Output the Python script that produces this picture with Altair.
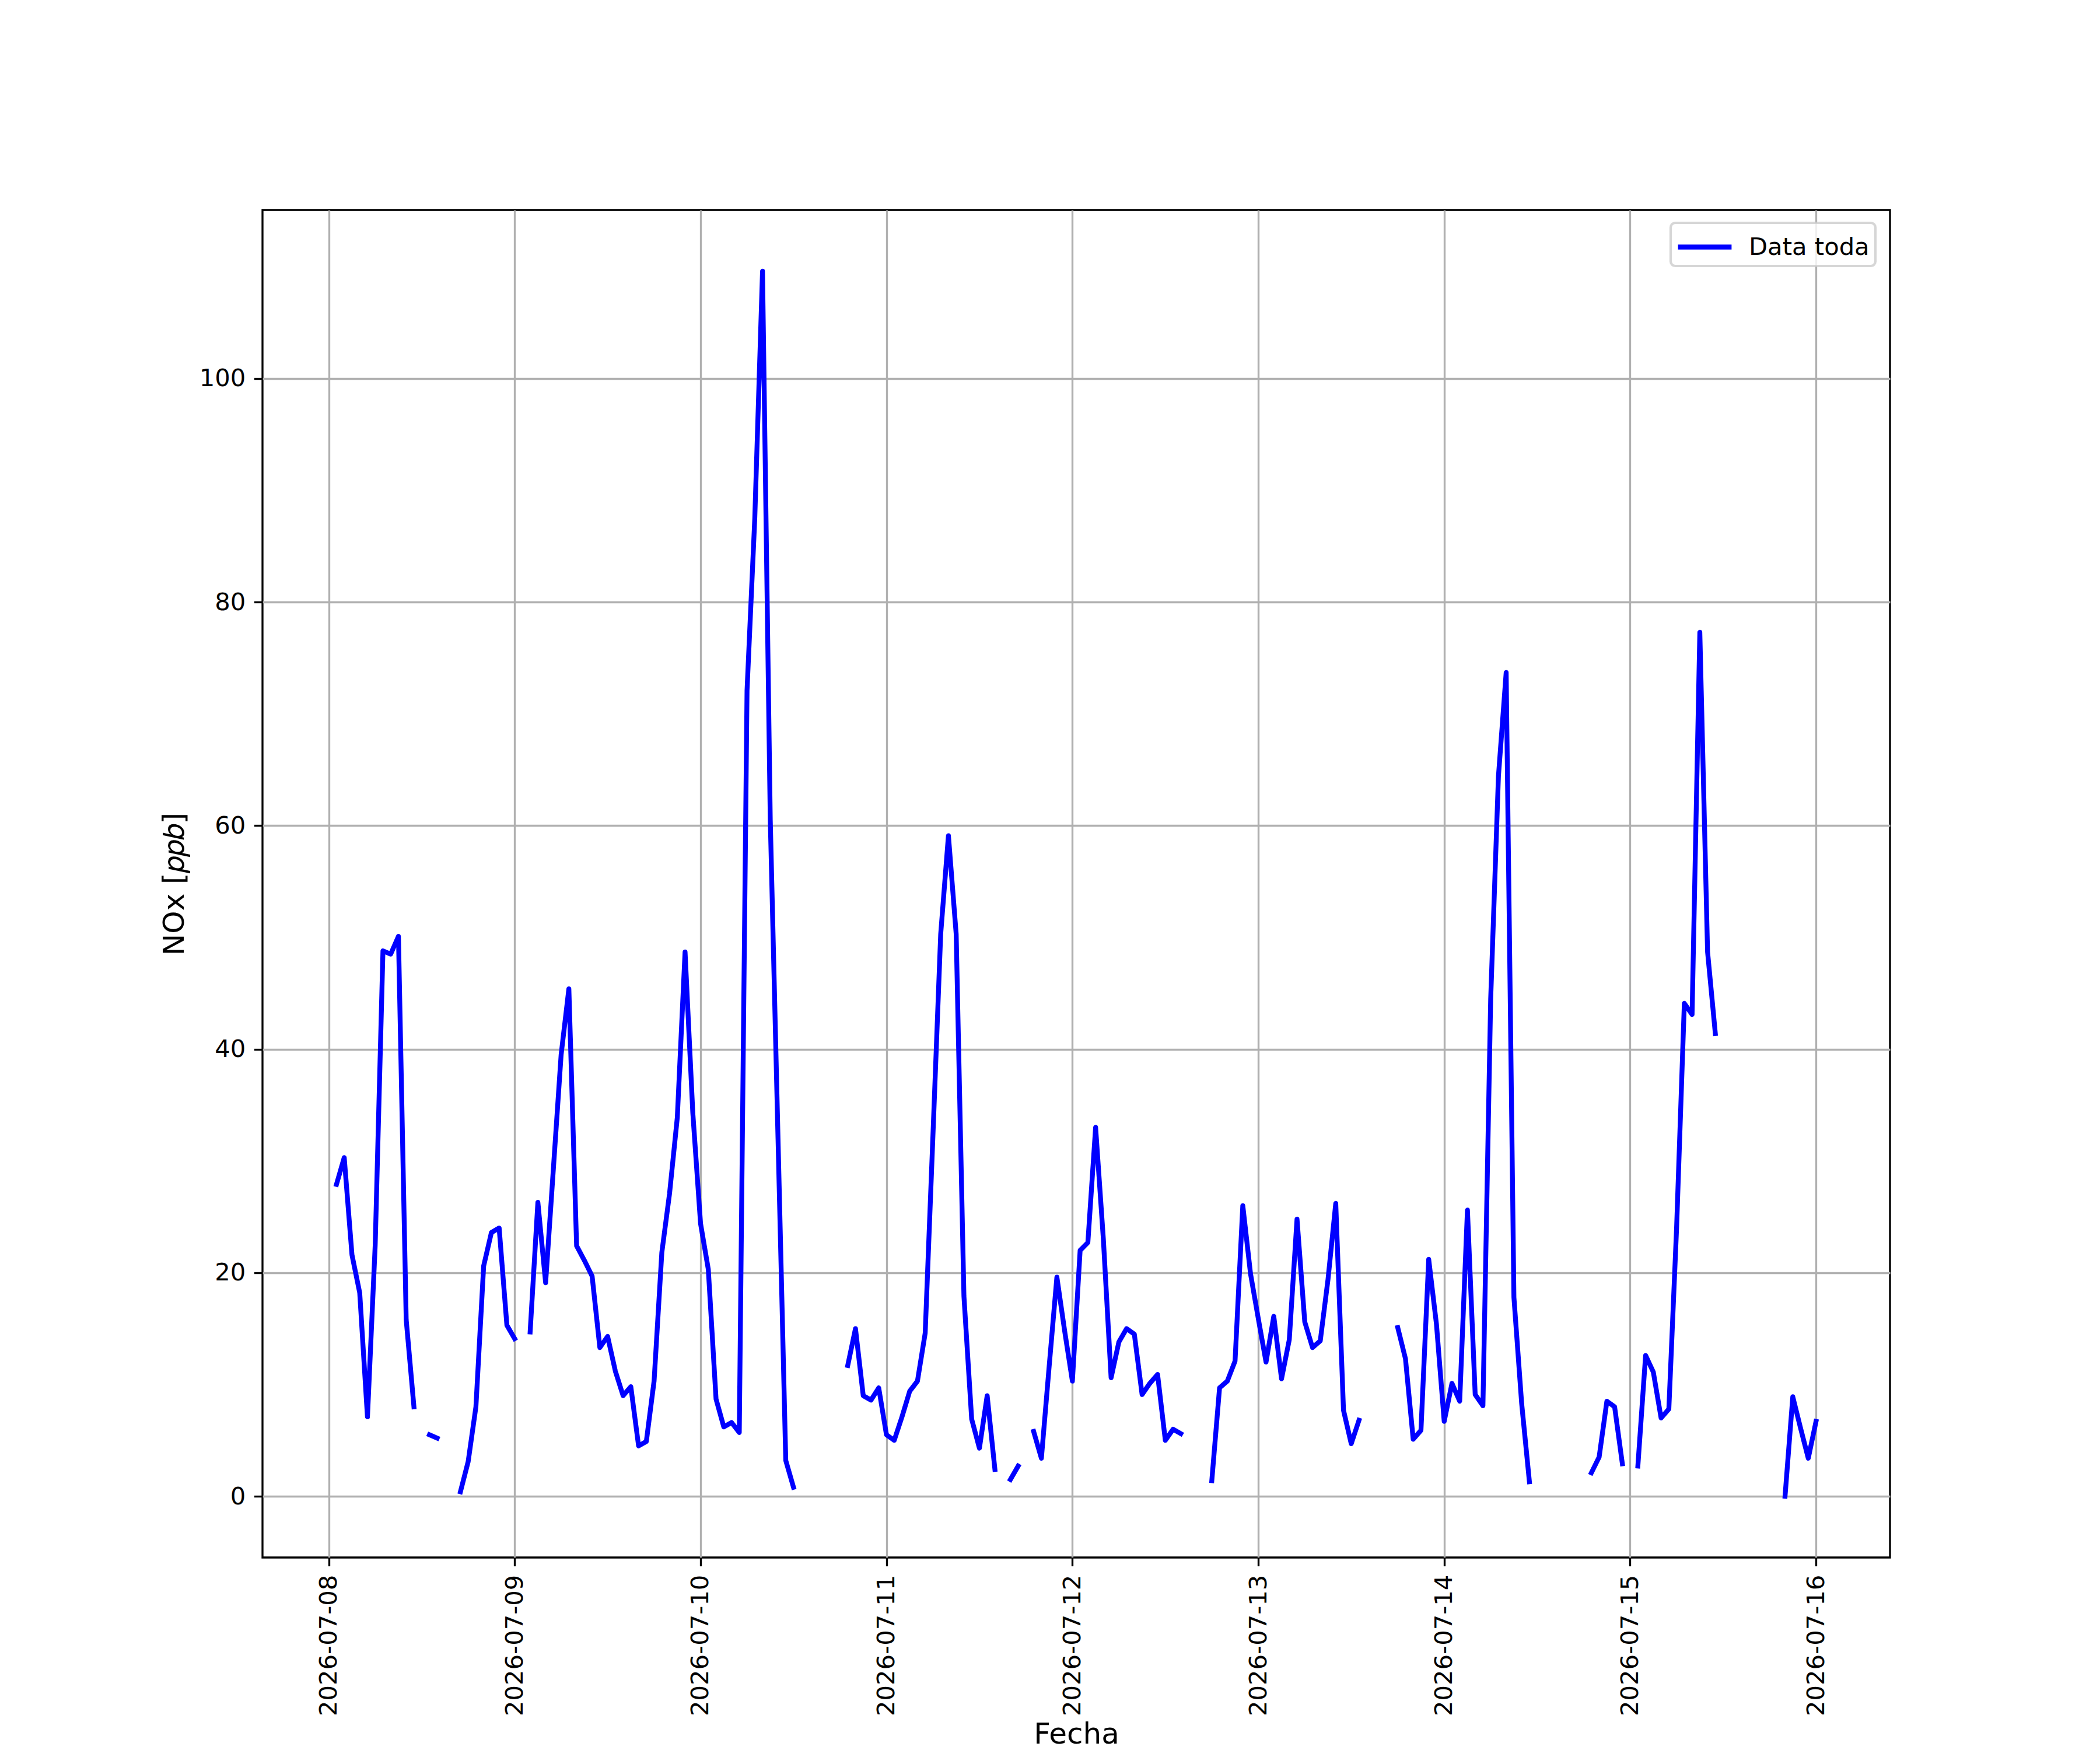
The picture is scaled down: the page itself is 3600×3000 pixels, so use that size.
import altair as alt
import pandas as pd

# Hourly NOx values (ppb) per day, hour 0..23; None = missing
days = ["2026-07-08", "2026-07-09", "2026-07-10", "2026-07-11", "2026-07-12",
        "2026-07-13", "2026-07-14", "2026-07-15", "2026-07-16"]

d0708 = [None, 27.9, 30.3, 21.6, 18.2, 7.1, 22.5, 48.8, 48.5, 50.1, 15.8, 8.0,
         None, 5.5, 5.2, None, None, 0.4, 3.1, 8.0, 20.6, 23.6, 24.0, 15.3]
d0709 = [14.1, None, 14.7, 26.3, 19.1, 29.3, 39.5, 45.4, 22.4, 21.1, 19.7, 13.3,
         14.3, 11.2, 9.0, 9.8, 4.5, 4.9, 10.3, 21.8, 27.1, 33.9, 48.7, 34.3]
d0710 = [24.4, 20.3, 8.7, 6.2, 6.6, 5.7, 72.1, 87.5, 109.6, 60.5, 32.0, 3.2,
         0.8, None, None, None, None, None, None, 11.7, 15.0, 9.0, 8.6, 9.7]
d0711 = [5.5, 5.0, 7.1, 9.4, 10.3, 14.6, 32.3, 50.3, 59.1, 50.3, 17.9, 6.9,
         4.3, 9.0, 2.4, None, 1.5, 2.7, None, 5.8, 3.4, 11.6, 19.6, 14.8]
d0712 = [10.3, 22.0, 22.7, 33.0, 23.0, 10.6, 13.8, 15.0, 14.5, 9.1, 10.1, 10.9,
         5.0, 6.0, 5.6, None, None, None, 1.4, 9.7, 10.3, 12.1, 26.0, 19.9]
d0713 = [15.9, 12.0, 16.1, 10.5, 14.0, 24.8, 15.6, 13.3, 13.9, 19.4, 26.2, 7.7,
         4.7, 6.8, None, None, None, None, 15.1, 12.3, 5.1, 5.9, 21.2, 15.4]
d0714 = [6.7, 10.1, 8.5, 25.6, 9.1, 8.1, 44.5, 64.4, 73.7, 17.8, 8.3, 1.3,
         None, None, None, None, None, None, None, 2.1, 3.5, 8.5, 8.0, 2.9]
d0715 = [None, 2.7, 12.6, 11.1, 7.0, 7.8, 24.0, 44.1, 43.1, 77.3, 48.7, 41.4,
         None, None, None, None, None, None, None, None, 0.0, 8.9, 6.1, 3.4]
d0716 = [6.7]

series = [d0708, d0709, d0710, d0711, d0712, d0713, d0714, d0715, d0716]
y_ticks = [0, 20, 40, 60, 80, 100]
legend_label = "Data toda"

rows = []
seg = 0
for day, vals in zip(days, series):
    for h, v in enumerate(vals):
        if v is None:
            seg += 1
            continue
        rows.append({"Fecha": f"{day}T{h:02d}:00:00Z", "NOx": v,
                     "seg": seg, "serie": legend_label})
df = pd.DataFrame(rows)

FONT = "DejaVu Sans"
FS = 41.7
TFS = 50
LW = 3.33
LINE_W = 8.3

x_ticks = [alt.DateTime(year=2026, month=7, date=8 + i, utc=True) for i in range(9)]
x_domain = [alt.DateTime(year=2026, month=7, date=7, hours=15, minutes=27, utc=True),
            alt.DateTime(year=2026, month=7, date=16, hours=9, minutes=33, utc=True)]

chart = alt.Chart(df).mark_line(
    strokeWidth=LINE_W, strokeCap="square", strokeJoin="round"
).encode(
    x=alt.X("Fecha:T",
            scale=alt.Scale(type="utc", domain=x_domain, nice=False),
            axis=alt.Axis(title="Fecha", values=x_ticks, format="%Y-%m-%d",
                          labelAngle=270, labelOverlap=False, labelFlush=False,
                          labelLimit=0, titleY=318, titleBaseline="alphabetic")),
    y=alt.Y("NOx:Q",
            scale=alt.Scale(domain=[-5.48, 115.08], nice=False, zero=False),
            axis=alt.Axis(title="NOx [𝑝𝑝𝑏]", values=y_ticks, format="d",
                          titlePadding=17)),
    detail="seg:N",
    color=alt.Color("serie:N", scale=alt.Scale(range=["#0000ff"]),
                    legend=alt.Legend(title=None, orient="none",
                                      legendX=2414, legendY=22,
                                      symbolType="M-1.7,0H1.7", symbolSize=2916,
                                      symbolStrokeWidth=LINE_W, symbolOffset=17,
                                      labelFontSize=FS,
                                      labelFont=FONT, labelColor="black",
                                      labelOffset=44, labelLimit=0, padding=10,
                                      strokeColor="rgba(204,204,204,0.8)",
                                      fillColor="rgba(255,255,255,0.8)",
                                      cornerRadius=8)),
).properties(
    width=2790, height=2310,
    autosize=alt.AutoSizeParams(type="none"),
    padding={"left": 442, "top": 352, "right": 350, "bottom": 330},
).configure(
    font=FONT,
).configure_view(
    stroke="black", strokeWidth=LW, fill="white",
).configure_axis(
    labelFont=FONT, labelFontSize=FS, labelColor="black",
    titleFont=FONT, titleFontSize=TFS, titleFontWeight="normal", titleColor="black",
    tickSize=14.6, tickWidth=LW, tickColor="black", labelPadding=14.6,
    domain=False, grid=True, gridColor="#b0b0b0", gridWidth=LW,
).configure_legend(
    strokeWidth=4.17,
)

chart.save("out.html", embed_options={"renderer": "svg", "actions": False})
